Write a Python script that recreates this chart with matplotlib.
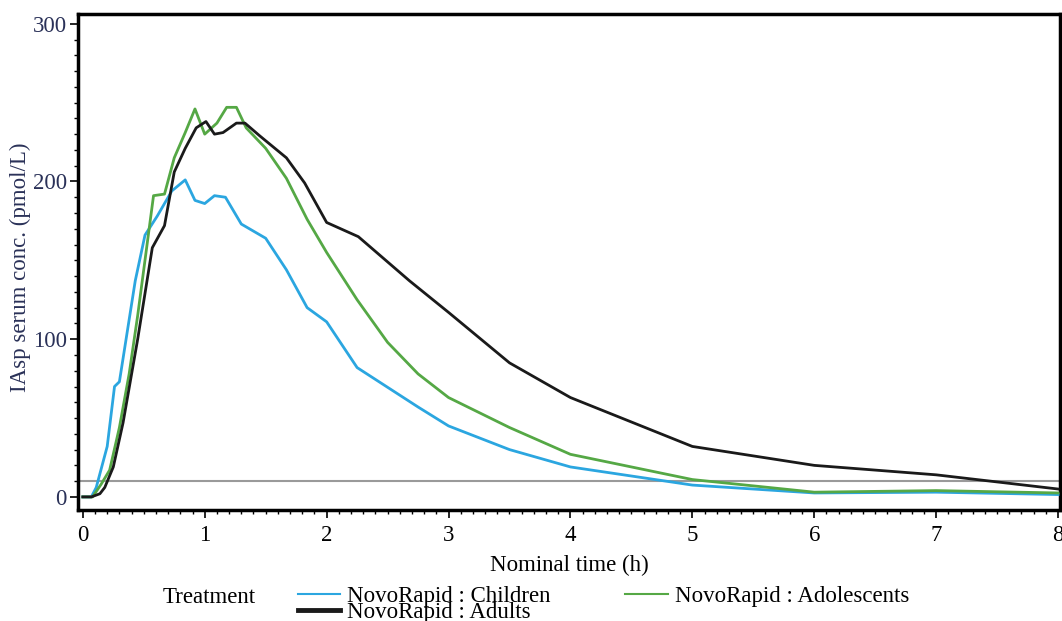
import matplotlib
matplotlib.use("Agg")
import matplotlib.pyplot as plt
from matplotlib.lines import Line2D
from matplotlib.ticker import MultipleLocator

# nominal time (h) and mean IAsp serum conc. (pmol/L)
t_child = [0, 0.07, 0.11, 0.2, 0.26, 0.3, 0.43, 0.51, 0.61, 0.73, 0.84, 0.92, 1.0, 1.08,
           1.17, 1.3, 1.5, 1.67, 1.84, 2.0, 2.25, 2.75, 3.0, 3.5, 4.0, 5.0, 6.0, 7.0, 8.0]
c_child = [0, 0, 6, 32, 70, 73, 137, 166, 178, 194, 201, 188, 186, 191,
           190, 173, 164, 144, 120, 111, 82, 57, 45, 30, 19, 7.5, 2.5, 3, 1.5]

t_adol = [0, 0.08, 0.15, 0.22, 0.3, 0.38, 0.45, 0.58, 0.67, 0.75, 0.84, 0.92, 1.0, 1.1, 1.18,
          1.26, 1.34, 1.5, 1.67, 1.84, 2.0, 2.25, 2.5, 2.75, 3.0, 3.5, 4.0, 5.0, 6.0, 7.0, 8.0]
c_adol = [0, 0, 8, 17, 44, 78, 115, 191, 192, 215, 231, 246, 230, 237, 247,
          247, 234, 221, 202, 176, 155, 125, 98, 78, 63, 44, 27, 11, 3, 4, 2.5]

t_adult = [0, 0.07, 0.14, 0.18, 0.25, 0.33, 0.45, 0.57, 0.67, 0.75, 0.84, 0.93, 1.01, 1.08, 1.15,
           1.26, 1.33, 1.45, 1.67, 1.82, 2.0, 2.26, 2.68, 3.0, 3.5, 4.0, 5.0, 6.0, 7.0, 8.0]
c_adult = [0, 0, 2, 6, 19, 47, 100, 158, 172, 206, 221, 234, 238, 230, 231,
           237, 237, 229, 215, 199, 174, 165, 137, 117, 85, 63, 32, 20, 14, 5]

lloq = 10

names = ["NovoRapid : Children", "NovoRapid : Adults", "NovoRapid : Adolescents"]
col_child = "#2ba6e0"
col_adol = "#55a845"
col_adult = "#1a1a1a"
navy = "#2a3158"

plt.rcParams["font.family"] = ["Liberation Serif", "DejaVu Serif"]
plt.rcParams["font.size"] = 16.5

fig = plt.figure(figsize=(10.62, 6.21), dpi=100)
ax = fig.add_axes([0.0734, 0.179, 0.9246, 0.798])

ax.axhline(lloq, color="#9a9a9a", lw=1.5, zorder=1)
ax.plot(t_child, c_child, color=col_child, lw=2, zorder=3)
ax.plot(t_adol, c_adol, color=col_adol, lw=2, zorder=3)
ax.plot(t_adult, c_adult, color=col_adult, lw=2, zorder=4)

ax.set_xlim(-0.04, 8.015)
ax.set_ylim(-8.2, 306)
ax.xaxis.set_major_locator(MultipleLocator(1))
ax.xaxis.set_minor_locator(MultipleLocator(0.1))
ax.yaxis.set_major_locator(MultipleLocator(100))
ax.yaxis.set_minor_locator(MultipleLocator(10))
ax.tick_params(which="major", length=6, width=1.2, direction="out")
ax.tick_params(which="minor", length=3, width=1, direction="out")
ax.tick_params(axis="y", labelcolor=navy, pad=2)
ax.tick_params(axis="x", pad=5)
for s in ax.spines.values():
    s.set_linewidth(2.5)

ax.set_xlabel("Nominal time (h)", labelpad=6)
ax.set_ylabel("IAsp serum conc. (pmol/L)", color=navy)
ax.yaxis.set_label_coords(-0.048, 0.49)

handles = [Line2D([], [], color=col_child, lw=1.5),
           Line2D([], [], color=col_adult, lw=3.5),
           Line2D([], [], color=col_adol, lw=1.5)]
fig.legend(handles, names, ncol=2, loc="upper left", bbox_to_anchor=(0.2806, 0.056),
           frameon=False, borderpad=0, borderaxespad=0, handlelength=1.85,
           handletextpad=0.3, columnspacing=3.25, labelspacing=-0.25)
fig.text(0.153, 0.038, "Treatment", va="center", ha="left")

fig.savefig("out.png", dpi=100)
